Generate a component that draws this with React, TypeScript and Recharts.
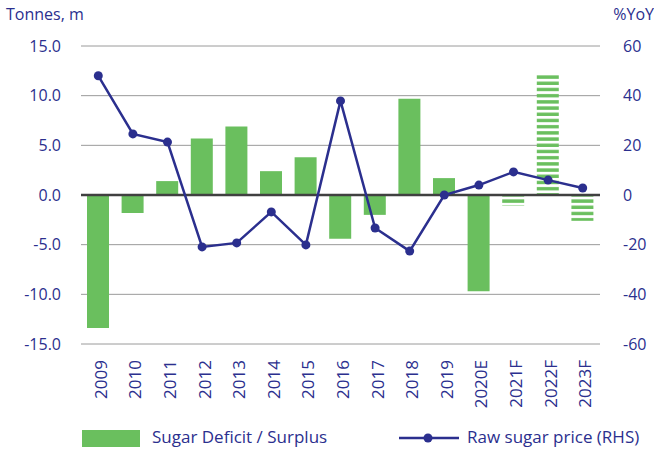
import React from "react";
import {
  ComposedChart,
  Bar,
  Line,
  XAxis,
  YAxis,
  CartesianGrid,
  ReferenceLine,
  Cell,
} from "recharts";

const categories = ["2009", "2010", "2011", "2012", "2013", "2014", "2015", "2016", "2017", "2018", "2019", "2020E", "2021F", "2022F", "2023F"];
const balance = [-13.4, -1.8, 1.4, 5.7, 6.9, 2.4, 3.8, -4.4, -2.0, 9.7, 1.7, -9.7, -1.1, 12.1, -2.6];
const price = [48, 24.6, 21.3, -20.9, -19.3, -6.8, -20.1, 37.9, -13.3, -22.6, 0, 4, 9.3, 6, 2.8];
const forecast = [false, false, false, false, false, false, false, false, false, false, false, false, true, true, true];
const leftTicks = [-15, -10, -5, 0, 5, 10, 15];
const rightTicks = [-60, -40, -20, 0, 20, 40, 60];

const data = categories.map((c, i) => ({ cat: c, balance: balance[i], price: price[i] }));

const NAVY = "#2b2f8e";
const GREEN = "#6abf5e";
const FONT = "'Open Sans', 'Noto Sans', sans-serif";

const XTick = (props: any) => {
  const { x, y, payload } = props;
  const xx = x + 2;
  const yy = y + 16;
  return (
    <text
      x={xx}
      y={yy}
      transform={`rotate(-90, ${xx}, ${yy})`}
      textAnchor="end"
      dominantBaseline="central"
      fill={NAVY}
      fontSize={17}
      fontFamily={FONT}
    >
      {payload.value}
    </text>
  );
};

export default function App() {
  return (
    <div style={{ position: "absolute", left: 0, top: 0, width: 654, height: 449, background: "#fff" }}>
      <ComposedChart
        width={654}
        height={449}
        data={data}
        margin={{ top: 46, right: 0, left: 0, bottom: 0 }}
      >
        <defs>
          <pattern id="stripes" patternUnits="userSpaceOnUse" width="10" height="6.2">
            <rect x="0" y="1" width="10" height="3.4" fill={GREEN} />
          </pattern>
        </defs>
        <CartesianGrid vertical={false} stroke="#9a9a9a" strokeWidth={1} yAxisId="left" />
        <XAxis
          dataKey="cat"
          axisLine={false}
          tickLine={false}
          tickSize={0}
          tickMargin={0}
          height={105}
          interval={0}
          tick={<XTick />}
        />
        <YAxis
          yAxisId="left"
          orientation="left"
          domain={[-15, 15]}
          ticks={leftTicks}
          width={81}
          axisLine={false}
          tickLine={false}
          tickSize={0}
          tickMargin={20}
          tickFormatter={(v: number) => v.toFixed(1)}
          tick={{ fill: NAVY, fontSize: 16, fontFamily: FONT }}
        />
        <YAxis
          yAxisId="right"
          orientation="right"
          domain={[-60, 60]}
          ticks={rightTicks}
          width={54}
          axisLine={false}
          tickLine={false}
          tickSize={0}
          tickMargin={23}
          tick={{ fill: NAVY, fontSize: 16, fontFamily: FONT }}
        />
        <Bar yAxisId="left" dataKey="balance" barSize={22} isAnimationActive={false}>
          {data.map((d, i) => (
            <Cell key={d.cat} fill={forecast[i] ? "url(#stripes)" : GREEN} />
          ))}
        </Bar>
        <ReferenceLine yAxisId="left" y={0} stroke="#404040" strokeWidth={2.5} />
        <Line
          yAxisId="right"
          dataKey="price"
          stroke={NAVY}
          strokeWidth={2.5}
          dot={{ r: 4.5, fill: NAVY, stroke: NAVY, strokeWidth: 0 }}
          isAnimationActive={false}
        />
        <text x={6} y={20} fill={NAVY} fontSize={16} fontFamily={FONT}>Tonnes, m</text>
        <text x={654} y={20} textAnchor="end" fill={NAVY} fontSize={16} fontFamily={FONT}>%YoY</text>
        <rect x={82} y={430} width={58} height={17} fill={GREEN} />
        <text x={152} y={443} fill={NAVY} fontSize={17} fontFamily={FONT}>Sugar Deficit / Surplus</text>
        <line x1={399} y1={438} x2={459} y2={438} stroke={NAVY} strokeWidth={2.5} />
        <circle cx={428} cy={438} r={4.5} fill={NAVY} />
        <text x={467} y={443} fill={NAVY} fontSize={17} fontFamily={FONT}>Raw sugar price (RHS)</text>
      </ComposedChart>
    </div>
  );
}
